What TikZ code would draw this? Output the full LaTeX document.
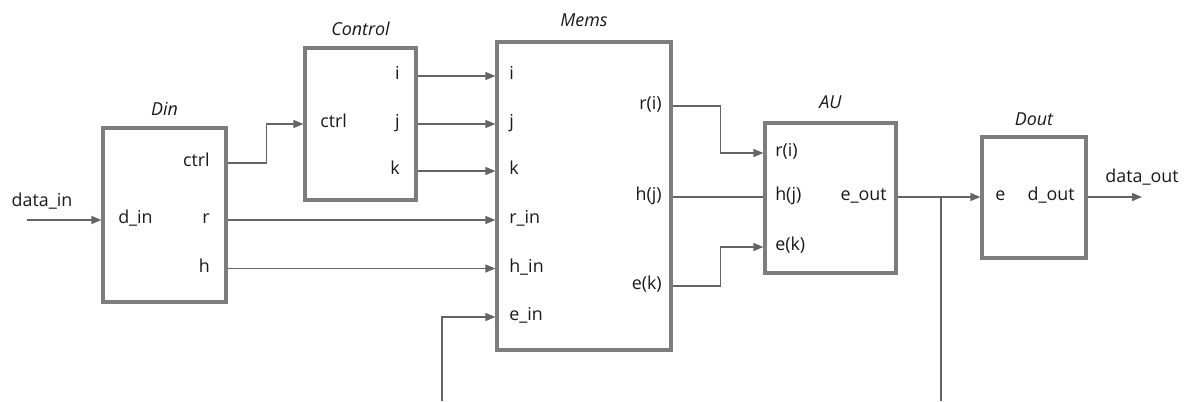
\documentclass[tikz,border=0pt]{standalone}
\usepackage{fontspec}
\setmainfont{Open Sans}
\usetikzlibrary{arrows.meta,shadows}
\definecolor{boxc}{RGB}{125,125,125}
\definecolor{linec}{RGB}{100,100,100}
\definecolor{txt}{RGB}{25,25,25}
\begin{document}
\begin{tikzpicture}[x=0.75pt,y=-0.75pt,
  blk/.style n args={2}{draw=boxc, line width=2.4pt, fill=white, inner sep=0pt,
    minimum width=#1*0.75pt, minimum height=#2*0.75pt,
    drop shadow={shadow xshift=1.8pt, shadow yshift=-1.8pt, opacity=0.3}},
  lbl/.style={font=\fontsize{13.4}{15}\selectfont, text=txt, inner sep=0pt},
  ttl/.style={font=\fontsize{13.4}{15}\selectfont\itshape, text=txt, inner sep=0pt, anchor=base},
  conn/.style={draw=linec, line width=1pt},
  arr/.style={conn, -{Triangle[length=7.5pt,width=6pt]}, color=linec}]
\useasboundingbox (0,0) rectangle (1189,401);

% blocks
\node[blk={123}{174}] (din) at (164.5,215) {};
\node[blk={111}{152}] (ctl) at (360.5,124) {};
\node[blk={174}{308}] (mems) at (584,196) {};
\node[blk={131}{150}] (au) at (830.5,198) {};
\node[blk={104}{121}] (dout) at (1034,197.5) {};

% titles
\node[ttl] (din-t) at (164.5,115) {Din};
\node[ttl] (ctl-t) at (360.5,35) {Control};
\node[ttl] (mems-t) at (584,26) {Mems};
\node[ttl] (au-t) at (830.5,108) {AU};
\node[ttl] (dout-t) at (1034,125) {Dout};

% Din ports
\node[lbl, anchor=mid west] (din-in) at (118,220) {d\_in};
\node[lbl, anchor=mid east] (din-ctrl) at (210,163) {ctrl};
\node[lbl, anchor=mid east] (din-r) at (210,220) {r};
\node[lbl, anchor=mid east] (din-h) at (210,268.5) {h};
% Control ports
\node[lbl, anchor=mid west] (ctl-ctrl) at (320,124) {ctrl};
\node[lbl, anchor=mid east] (ctl-i) at (400,76) {i};
\node[lbl, anchor=mid east] (ctl-j) at (400,124) {j};
\node[lbl, anchor=mid east] (ctl-k) at (400,171) {k};
% Mems ports
\node[lbl, anchor=mid west] (mems-i) at (509,76) {i};
\node[lbl, anchor=mid west] (mems-j) at (509,124) {j};
\node[lbl, anchor=mid west] (mems-k) at (509,171) {k};
\node[lbl, anchor=mid west] (mems-r) at (509,220) {r\_in};
\node[lbl, anchor=mid west] (mems-h) at (509,268.5) {h\_in};
\node[lbl, anchor=mid west] (mems-e) at (509,317) {e\_in};
\node[lbl, anchor=mid east] (mems-ri) at (662,106) {r(i)};
\node[lbl, anchor=mid east] (mems-hj) at (662,197) {h(j)};
\node[lbl, anchor=mid east] (mems-ek) at (662,286) {e(k)};
% AU ports
\node[lbl, anchor=mid west] (au-ri) at (775,153) {r(i)};
\node[lbl, anchor=mid west] (au-hj) at (775,197) {h(j)};
\node[lbl, anchor=mid west] (au-ek) at (775,247) {e(k)};
\node[lbl, anchor=mid east] (au-eout) at (887,197) {e\_out};
% Dout ports
\node[lbl, anchor=mid west] (dout-e) at (995,197) {e};
\node[lbl, anchor=mid east] (dout-d) at (1075,197) {d\_out};

% external labels
\node[lbl, anchor=base] (datain) at (42,206) {data\_in};
\node[lbl, anchor=base] (dataout) at (1142,182) {data\_out};

% free ends
\coordinate (in-src) at (27,220);
\coordinate (ein-src) at (442,401);
\coordinate (br-top) at (941,197);
\coordinate (br-bot) at (941,401);
\coordinate (out-end) at (1142,197);

% connectors
\draw[arr] (in-src) -- (din.west |- din-in.mid west);
\draw[arr] (din.east |- din-ctrl.mid east) -- ++(39,0) |- (ctl.west |- ctl-ctrl.mid west);
\draw[arr] (ctl.east |- ctl-i.mid east) -- (mems.west |- mems-i.mid west);
\draw[arr] (ctl.east |- ctl-j.mid east) -- (mems.west |- mems-j.mid west);
\draw[arr] (ctl.east |- ctl-k.mid east) -- (mems.west |- mems-k.mid west);
\draw[arr] (din.east |- din-r.mid east) -- (mems.west |- mems-r.mid west);
\draw[arr] (din.east |- din-h.mid east) -- (mems.west |- mems-h.mid west);
\draw[arr] (ein-src) |- (mems.west |- mems-e.mid west);
\draw[arr] (mems.east |- mems-ri.mid east) -- ++(48,0) |- (au.west |- au-ri.mid west);
\draw[conn] (mems.east |- mems-hj.mid east) -- (au.west |- au-hj.mid west);
\draw[arr] (mems.east |- mems-ek.mid east) -- ++(48,0) |- (au.west |- au-ek.mid west);
\draw[arr] (au.east |- au-eout.mid east) -- (dout.west |- dout-e.mid west);
\draw[conn] (br-top) -- (br-bot);
\draw[arr] (dout.east |- dout-d.mid east) -- (out-end);
\end{tikzpicture}
\end{document}
